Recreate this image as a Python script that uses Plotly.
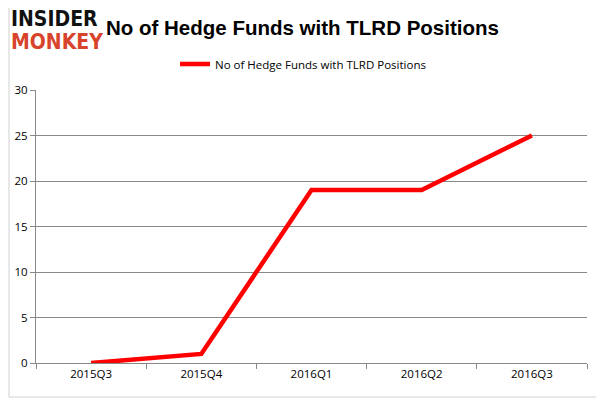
import plotly.graph_objects as go

quarters = ["2015Q3", "2015Q4", "2016Q1", "2016Q2", "2016Q3"]
hedge_funds = [0, 1, 19, 19, 25]
y_ticks = [0, 5, 10, 15, 20, 25, 30]
series_name = "No of Hedge Funds with TLRD Positions"
title_text = "No of Hedge Funds with TLRD Positions"

# page body has an 8px default margin; compensate so the picture lands at target pixels
OFF = 8
W, H = 604 - OFF, 400 - OFF
L, R, T, B = 36 - OFF, 17, 90 - OFF, 37
pw, ph = W - L - R, H - T - B

def px_x(x):
    return (x - OFF - L) / pw

def px_y(y):
    return (H - B - (y - OFF)) / ph

FONT = "Open Sans, Liberation Sans, sans-serif"
LOGO_FONT = "DejaVu Sans Condensed, DejaVu Sans, sans-serif"

fig = go.Figure()
fig.add_trace(go.Scatter(
    x=quarters, y=hedge_funds, mode="lines", name=series_name,
    line=dict(color="#FF0000", width=4.5),
))

fig.update_layout(
    width=W, height=H,
    margin=dict(l=L, r=R, t=T, b=B, autoexpand=False),
    paper_bgcolor="white", plot_bgcolor="white",
    showlegend=True,
    legend=dict(orientation="h", x=px_x(303), xanchor="center", y=px_y(64), yanchor="middle",
                font=dict(family=FONT, size=11.5, color="#000"),
                bgcolor="rgba(0,0,0,0)"),
    xaxis=dict(type="category", range=[-0.5, 4.5], tickson="boundaries",
               ticks="outside", ticklen=5, tickcolor="#888", showline=True,
               linecolor="#888", linewidth=1, showgrid=False, zeroline=False,
               tickfont=dict(family=FONT, size=11.5, color="#000")),
    yaxis=dict(range=[0, 30], tickvals=y_ticks, ticks="outside", ticklen=5, tickcolor="#888",
               showline=True, linecolor="#888", linewidth=1, showgrid=True,
               gridcolor="#888", gridwidth=1, zeroline=False,
               tickfont=dict(family=FONT, size=11.5, color="#000")),
    shapes=[dict(type="rect", xref="paper", yref="paper",
                 x0=px_x(9), x1=px_x(601), y0=px_y(397), y1=px_y(7),
                 line=dict(color="#D0D0D0", width=1), fillcolor="rgba(0,0,0,0)", layer="below")],
    annotations=[
        dict(text="<b>" + title_text + "</b>", xref="paper", yref="paper",
             x=px_x(302), y=px_y(28), xanchor="center", yanchor="middle", showarrow=False,
             font=dict(family="Liberation Sans, Arial, sans-serif", size=20.5, color="#000")),
        dict(text="<b>INSIDER</b>", xref="paper", yref="paper",
             x=px_x(9), y=px_y(19), xanchor="left", yanchor="middle", showarrow=False,
             font=dict(family=LOGO_FONT, size=21, color="#111")),
        dict(text="<b>MONKEY</b>", xref="paper", yref="paper",
             x=px_x(9), y=px_y(42), xanchor="left", yanchor="middle", showarrow=False,
             font=dict(family=LOGO_FONT, size=21, color="#D8432C")),
    ],
)

fig.write_html("out.html")
